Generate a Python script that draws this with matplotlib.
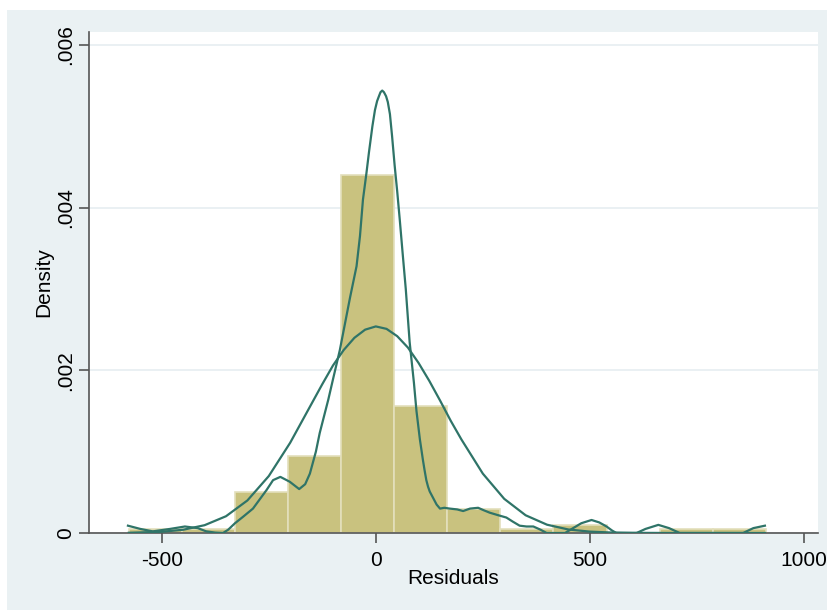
import numpy as np
import matplotlib
matplotlib.use('Agg')
import matplotlib.pyplot as plt
from matplotlib.patches import Rectangle

# histogram bins (residuals) and densities
bin_edges = [-577, -453, -329, -205, -81, 43, 167, 291, 415, 539, 663, 787, 911]
bin_density = [0.00005, 0.00005, 0.0005, 0.00095, 0.0044, 0.00156, 0.0003,
               0.00005, 0.0001, 0.0, 0.00005, 0.00005]

# normal density overlay
norm_x = [-577, -500, -450, -400, -350, -300, -250, -200, -175, -150, -125, -100,
          -75, -50, -25, 0, 25, 50, 75, 100, 125, 150, 175, 200, 250, 300, 350,
          400, 450, 500, 550, 600, 700, 800, 909]
norm_y = [0.000003, 0.000015, 0.00004, 0.000096, 0.000206, 0.0004, 0.0007, 0.00111,
          0.00135, 0.00159, 0.00183, 0.00206, 0.00225, 0.0024, 0.0025, 0.00254,
          0.00251, 0.00242, 0.00228, 0.00209, 0.00187, 0.00163, 0.00138, 0.00115,
          0.00073, 0.00042, 0.000218, 0.000102, 0.000043, 0.000017, 0.000006,
          0.000002, 0.0, 0.0, 0.0]

# kernel density overlay
kde_x = [-579, -550, -521, -481, -446, -416, -396, -375, -357, -345, -329, -310,
         -287, -255, -240, -223, -201, -179, -165, -154, -140, -131, -111, -100,
         -84, -60, -45, -37, -30, -22, -16, -12, -8, -5, -2, 3, 8, 11, 15, 19, 24,
         28, 33, 38, 44, 50, 56, 63, 70, 79, 89, 95, 103, 110, 114, 118, 122, 126,
         134, 142, 150, 160, 173, 190, 204, 220, 239, 252, 266, 285, 305, 320, 336,
         352, 368, 385, 399, 442, 461, 480, 504, 522, 539, 552, 562, 609, 630, 660,
         685, 710, 858, 870, 882, 909]
kde_y = [0.00009, 0.00005, 0.00002, 0.00005, 0.00008, 0.00006, 0.00002, 0.000005,
         0.0, 0.00004, 0.00012, 0.0002, 0.0003, 0.00053, 0.00065, 0.00069, 0.00063,
         0.00054, 0.0006, 0.00073, 0.001, 0.00123, 0.00164, 0.00189, 0.00225,
         0.0029, 0.00328, 0.00365, 0.0041, 0.00442, 0.00468, 0.00484, 0.005, 0.0051,
         0.0052, 0.00531, 0.00538, 0.00542, 0.00544, 0.00542, 0.00537, 0.0053,
         0.00515, 0.00488, 0.00452, 0.0042, 0.00385, 0.00342, 0.003, 0.00235,
         0.00185, 0.0015, 0.00115, 0.0009, 0.00077, 0.00065, 0.00057, 0.00051,
         0.00043, 0.00035, 0.0003, 0.00031, 0.0003, 0.00029, 0.00027, 0.0003,
         0.00031, 0.00028, 0.00025, 0.00022, 0.00019, 0.00014, 0.00009, 0.00008,
         0.00008, 0.00004, 0.0, 0.0, 0.00006, 0.00012, 0.00016, 0.00013, 0.00008,
         0.00003, 0.0, 0.0, 0.00005, 0.0001, 0.00006, 0.0, 0.0, 0.00003, 0.00006,
         0.00009]

x_ticks = [-500, 0, 500, 1000]
x_labels = ['-500', '0', '500', '1000']
y_ticks = [0, 0.002, 0.004, 0.006]
y_labels = ['0', '.002', '.004', '.006']

bg = '#EAF1F3'
bar_color = '#C9C27F'
line_color = '#2F7468'
axis_color = '#555555'

plt.rcParams['font.family'] = ['Liberation Sans', 'DejaVu Sans']

fig = plt.figure(figsize=(8.27, 6.10), dpi=100, facecolor='white')
fig.patches.append(Rectangle((7 / 827, 0), 1, 1 - 10 / 610, transform=fig.transFigure,
                             facecolor=bg, edgecolor='none', zorder=-10))
ax = fig.add_axes([89 / 827, 77 / 610, (818 - 89) / 827, (533 - 32) / 610])
ax.set_facecolor('white')

ax.grid(axis='y', color='#E6EEF1', linewidth=1.2, zorder=0)
ax.set_axisbelow(True)

lefts = np.array(bin_edges[:-1])
widths = np.diff(bin_edges)
ax.bar(lefts, bin_density, width=widths, align='edge', color=bar_color,
       edgecolor='#E3DFBC', linewidth=1.2, zorder=2)

ax.plot(norm_x, norm_y, color=line_color, linewidth=1.6, zorder=3,
        solid_joinstyle='round')
ax.plot(kde_x, kde_y, color=line_color, linewidth=1.6, zorder=3,
        solid_joinstyle='round')

ax.set_xlim(-670, 1033)
ax.set_ylim(0, 0.00616)

ax.set_xticks(x_ticks)
ax.set_xticklabels(x_labels)
ax.set_yticks(y_ticks)
ax.set_yticklabels(y_labels, rotation=90, va='center')

for s in ['top', 'right']:
    ax.spines[s].set_visible(False)
for s in ['left', 'bottom']:
    ax.spines[s].set_color(axis_color)
    ax.spines[s].set_linewidth(1.2)

ax.tick_params(axis='both', direction='out', length=7, width=1.2, color=axis_color,
               labelsize=15, pad=6, labelcolor='black')
ax.tick_params(axis='y', pad=3)

ax.set_xlabel('Residuals', fontsize=15, labelpad=-1)
ax.set_ylabel('Density', fontsize=15, labelpad=2)

plt.savefig('out.png', dpi=100, facecolor=fig.get_facecolor())
